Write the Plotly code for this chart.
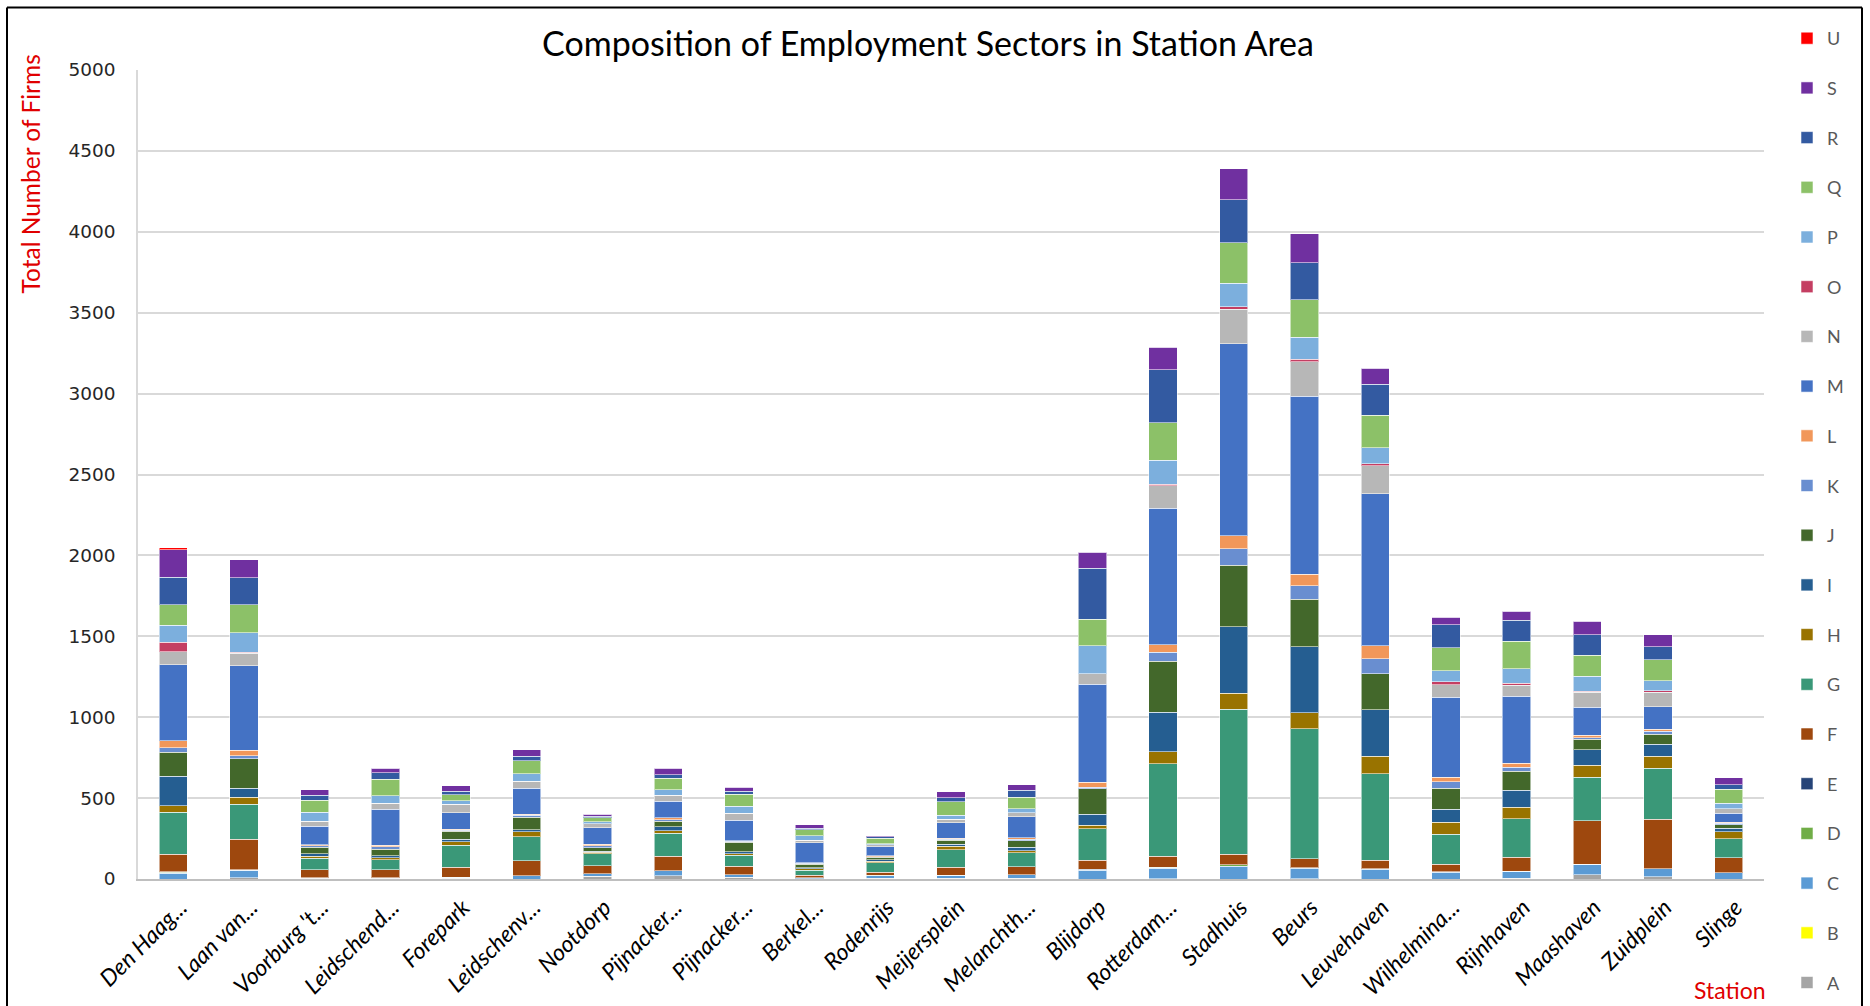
import plotly.graph_objects as go

# Station labels along the x axis (as printed, truncated names included)
stations = [
    "Den Haag...", "Laan van...", "Voorburg 't...", "Leidschend...", "Forepark",
    "Leidschenv...", "Nootdorp", "Pijnacker...", "Pijnacker...", "Berkel...",
    "Rodenrijs", "Meijersplein", "Melanchth...", "Blijdorp", "Rotterdam...",
    "Stadhuis", "Beurs", "Leuvehaven", "Wilhelmina...", "Rijnhaven",
    "Maashaven", "Zuidplein", "Slinge",
]

# Number of firms per sector (SBI letters), one value per station
sector_A = [0, 8, 4, 4, 4, 0, 16, 19, 10, 2, 4, 4, 4, 0, 3, 0, 2, 0, 0, 4, 26, 15, 0]
sector_B = [0] * 23
sector_C = [35, 45, 4, 4, 8, 21, 16, 31, 16, 6, 16, 18, 22, 53, 64, 80, 64, 60, 43, 45, 66, 49, 38]
sector_D = [8, 0, 0, 0, 0, 0, 0, 0, 0, 0, 2, 0, 0, 4, 5, 8, 5, 4, 3, 0, 0, 0, 0]
sector_E = [2, 5, 0, 0, 0, 0, 0, 0, 0, 0, 0, 0, 0, 2, 0, 0, 0, 0, 0, 0, 0, 0, 0]
sector_F = [109, 187, 49, 49, 62, 93, 51, 91, 54, 14, 21, 50, 50, 57, 68, 64, 53, 53, 44, 87, 268, 306, 92]
sector_G = [259, 216, 72, 62, 134, 148, 72, 142, 66, 31, 58, 110, 85, 196, 573, 897, 804, 533, 187, 236, 270, 315, 119]
sector_H = [39, 45, 12, 12, 21, 29, 10, 14, 10, 10, 10, 20, 15, 21, 75, 100, 100, 108, 74, 70, 74, 74, 43]
sector_I = [183, 54, 14, 12, 16, 12, 6, 25, 12, 8, 8, 12, 20, 66, 244, 411, 406, 287, 81, 106, 96, 74, 21]
sector_J = [148, 183, 41, 41, 49, 78, 23, 35, 58, 21, 14, 25, 40, 158, 315, 379, 295, 225, 130, 119, 64, 62, 23]
sector_K = [29, 19, 8, 14, 6, 14, 12, 10, 6, 6, 6, 6, 10, 11, 53, 103, 82, 90, 38, 23, 10, 17, 8]
sector_L = [43, 35, 8, 10, 8, 4, 10, 12, 4, 4, 4, 8, 8, 30, 48, 78, 73, 81, 28, 26, 13, 13, 6]
sector_M = [469, 521, 113, 222, 101, 161, 101, 101, 128, 123, 56, 95, 130, 607, 842, 1187, 1100, 940, 496, 413, 174, 140, 57]
sector_N = [80, 78, 33, 39, 54, 45, 25, 37, 43, 16, 12, 20, 25, 64, 142, 213, 212, 174, 77, 68, 94, 89, 28]
sector_O = [58, 4, 0, 0, 0, 0, 0, 0, 0, 0, 0, 0, 0, 0, 8, 18, 16, 12, 17, 13, 6, 8, 0]
sector_P = [105, 123, 54, 45, 21, 47, 12, 35, 43, 25, 8, 25, 25, 174, 148, 144, 135, 99, 68, 89, 92, 62, 32]
sector_Q = [128, 173, 76, 101, 37, 78, 25, 70, 74, 39, 33, 85, 70, 162, 231, 249, 234, 201, 143, 170, 130, 132, 89]
sector_R = [169, 167, 31, 41, 21, 29, 10, 21, 19, 10, 8, 25, 45, 315, 329, 266, 228, 192, 143, 130, 126, 79, 26]
sector_S = [171, 111, 33, 29, 35, 39, 10, 43, 25, 21, 6, 35, 35, 100, 137, 192, 180, 99, 47, 57, 85, 74, 45]
sector_U = [12, 0, 0, 0, 0, 0, 0, 0, 0, 0, 0, 0, 0, 0, 0, 0, 0, 0, 0, 0, 0, 0, 0]

sector_names = ["A", "B", "C", "D", "E", "F", "G", "H", "I", "J",
                "K", "L", "M", "N", "O", "P", "Q", "R", "S", "U"]
sector_values = [sector_A, sector_B, sector_C, sector_D, sector_E, sector_F, sector_G,
                 sector_H, sector_I, sector_J, sector_K, sector_L, sector_M, sector_N,
                 sector_O, sector_P, sector_Q, sector_R, sector_S, sector_U]
sector_colors = ["#a5a5a5", "#ffff00", "#5b9bd5", "#70ad47", "#264478", "#9e480e",
                 "#3a9878", "#997300", "#255e91", "#43682b", "#698ed0", "#f1975a",
                 "#4472c4", "#b7b7b7", "#c43e62", "#7cafdd", "#8cc168", "#335aa1",
                 "#7030a0", "#ff0000"]

x_pos = list(range(len(stations)))

fig = go.Figure()
n_sectors = len(sector_names)
for i, (name, vals, color) in enumerate(zip(sector_names, sector_values, sector_colors)):
    # stacked bottom-up A..U; legend lists U at the top
    fig.add_trace(go.Bar(
        x=x_pos, y=vals, name=name, legendgroup=name, legendrank=n_sectors - i,
        marker=dict(color=color, line=dict(color="rgba(255,255,255,0.55)", width=1)),
    ))

# plot area in pixels: x 138..1764, y 69.5..879
L, R, T, B = 138, 1764, 69.5, 879
W, H = 1870, 1006

def px_x(p):
    return (p - L) / (R - L)

def px_y(p):
    return (B - p) / (B - T)

border = dict(type="line", xref="paper", yref="paper", line=dict(color="black", width=2))
shapes = [
    dict(border, x0=px_x(7), x1=px_x(7), y0=px_y(7), y1=px_y(1010)),
    dict(border, x0=px_x(7), x1=px_x(1862), y0=px_y(7), y1=px_y(7)),
    dict(border, x0=px_x(1862), x1=px_x(1862), y0=px_y(7), y1=px_y(1010)),
]

fig.update_layout(
    width=W, height=H,
    margin=dict(l=L, r=W - R, t=T, b=H - B, autoexpand=False),
    paper_bgcolor="white", plot_bgcolor="white",
    barmode="stack", bargap=0.6,
    title=dict(text="Composition of Employment Sectors in Station Area",
               x=928 / W, xanchor="center", y=1 - 44 / H, yanchor="middle",
               xref="container", yref="container",
               font=dict(family="Lato", size=34, color="black")),
    font=dict(family="Lato"),
    xaxis=dict(
        range=[-0.5, len(stations) - 0.5],
        tickmode="array", tickvals=x_pos, ticktext=stations,
        tickangle=-45, ticks="",
        ticklabelstandoff=4, ticklabelshift=7,
        tickfont=dict(family="Lato", size=23, color="black", style="italic"),
        showgrid=False, showline=True, linecolor="#bfbfbf", linewidth=2,
        zeroline=False,
    ),
    yaxis=dict(
        range=[0, 5000], tickvals=list(range(0, 5001, 500)),
        tickfont=dict(family="DejaVu Sans", size=18.5, color="#262626"),
        ticklabelstandoff=17,
        showgrid=True, gridcolor="#d9d9d9", gridwidth=2,
        showline=True, linecolor="#d9d9d9", linewidth=1.5,
        zeroline=False,
    ),
    legend=dict(
        xref="container", yref="container",
        x=1787 / W, xanchor="left", y=1 - 20 / H, yanchor="top",
        traceorder="grouped", tracegroupgap=23.3, maxheight=1006,
        font=dict(family="Lato", size=18, color="#595959"),
        bgcolor="rgba(0,0,0,0)",
    ),
    shapes=shapes,
    annotations=[
        dict(text="Total Number of Firms", xref="paper", yref="paper",
             x=px_x(30), y=px_y(174), textangle=-90, showarrow=False,
             xanchor="center", yanchor="middle",
             font=dict(family="Lato", size=24.5, color="#e00000")),
        dict(text="Station", xref="paper", yref="paper",
             x=px_x(1768), y=px_y(990), showarrow=False,
             xanchor="right", yanchor="middle",
             font=dict(family="Lato", size=23, color="#e00000")),
    ],
)

fig.write_html("out.html")
